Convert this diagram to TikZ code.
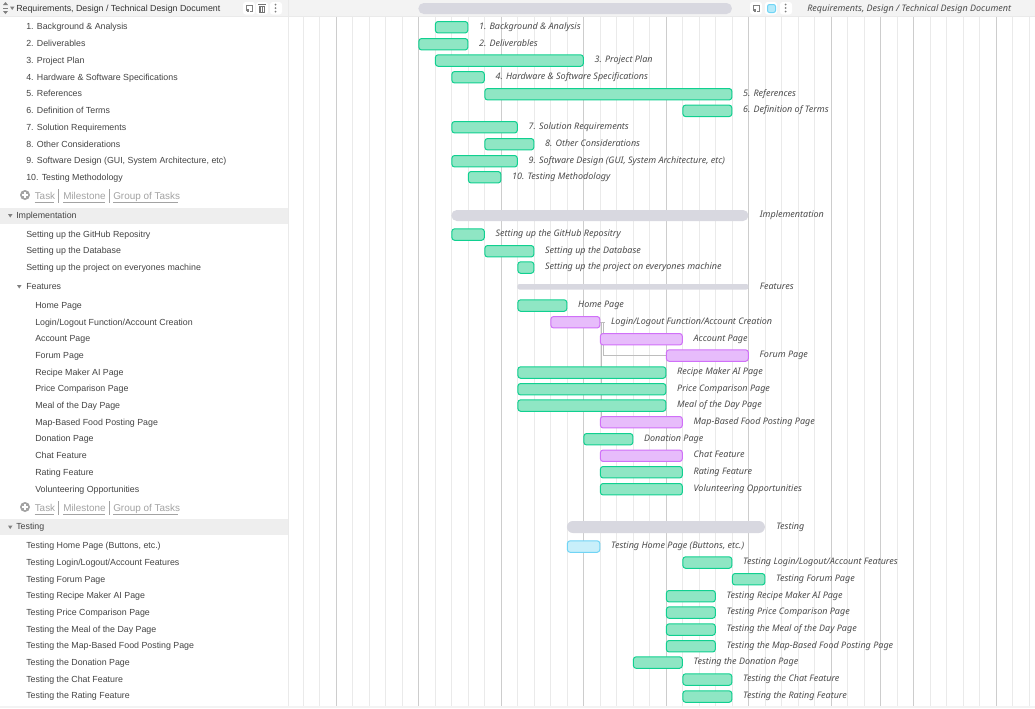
\documentclass[tikz,border=0pt]{standalone}
\usepackage{fontspec}
\setmainfont{Liberation Sans}
\newfontfamily\lblfont{Noto Sans}
\usetikzlibrary{backgrounds,calc}
\definecolor{txt}{HTML}{444444}
\definecolor{lbl}{HTML}{4D4D4D}
\definecolor{addc}{HTML}{A3A3A3}
\definecolor{gridl}{HTML}{EAEAEA}
\definecolor{gridd}{HTML}{CDCDCD}
\definecolor{band}{HTML}{F3F3F3}
\definecolor{gband}{HTML}{EEEEEE}
\definecolor{gfill}{HTML}{8FE6C4}
\definecolor{gline}{HTML}{10D090}
\definecolor{pfill}{HTML}{E7BCFB}
\definecolor{pline}{HTML}{D070F8}
\definecolor{bfill}{HTML}{C8EFFA}
\definecolor{bline}{HTML}{70D4F5}
\definecolor{sumc}{HTML}{D8D8E0}
\definecolor{depc}{HTML}{BDBDBD}
\tikzset{
  rowtext/.style={anchor=base west,inner sep=0,text=txt,font=\fontsize{6.62pt}{8pt}\selectfont},
  addtext/.style={anchor=base west,inner sep=0,text=addc,font=\fontsize{7.45pt}{9pt}\selectfont},
  bartext/.style={anchor=base west,inner sep=0,text=lbl,font=\lblfont\itshape\fontsize{6.75pt}{8pt}\selectfont},
  barbase/.style={anchor=north west,inner sep=0,outer sep=0,rounded corners=2pt,line width=0.75pt},
  gbar/.style={barbase,draw=gline,fill=gfill},
  pbar/.style={barbase,draw=pline,fill=pfill},
  bbar/.style={barbase,draw=bline,fill=bfill},
  sumbar/.style={anchor=north west,inner sep=0,outer sep=0,fill=sumc},
  iconbox/.style={anchor=north west,inner sep=0,outer sep=0,fill=white,rounded corners=2pt,minimum width=9pt,minimum height=9.4pt},
  dep/.style={draw=depc,line width=0.75pt},
  grid thin/.style={draw=gridl,line width=0.75pt},
  grid thick/.style={draw=gridd,line width=0.75pt}
}
\newcommand{\ganttbar}[6]{%
  \pgfmathsetmacro{\xa}{286.8+16.5*#2+0.1}%
  \pgfmathsetmacro{\wa}{(16.5*(#3-#2)-0.6)*0.75}%
  \pgfmathsetmacro{\xb}{286.8+16.5*#3+10.6}%
  \node[#5,minimum width=\wa pt,minimum height=8.6pt] (#1) at (\xa,#4+0.5) {};
  \node[bartext] (#1-l) at (\xb,#4+8.2) {#6};
}
\newcommand{\sumbar}[6]{%
  \pgfmathsetmacro{\xa}{286.8+16.5*#2-0.4}%
  \pgfmathsetmacro{\wa}{16.5*(#3-#2)*0.75}%
  \node[sumbar,rounded corners=#6pt,minimum width=\wa pt,minimum height=#5*0.75pt] (#1) at (\xa,#4) {};
}
\begin{document}
\begin{tikzpicture}[x=0.75pt,y=-0.75pt]
\useasboundingbox (0,0) rectangle (1035,708);
% ---- bars and labels
\sumbar{topscroll}{8}{27}{3}{11}{4}
\ganttbar{b1}{9}{11}{21}{gbar}{1. Background \& Analysis}
\ganttbar{b2}{8}{11}{38}{gbar}{2. Deliverables}
\ganttbar{b3}{9}{18}{54.3}{gbar}{3. Project Plan}
\ganttbar{b4}{10}{12}{71}{gbar}{4. Hardware \& Software Specifications}
\ganttbar{b5}{12}{27}{88}{gbar}{5. References}
\ganttbar{b6}{24}{27}{104.6}{gbar}{6. Definition of Terms}
\ganttbar{b7}{10}{14}{121}{gbar}{7. Solution Requirements}
\ganttbar{b8}{12}{15}{138}{gbar}{8. Other Considerations}
\ganttbar{b9}{10}{14}{155}{gbar}{9. Software Design (GUI, System Architecture, etc)}
\ganttbar{b10}{11}{13}{171}{gbar}{10. Testing Methodology}
\sumbar{impl}{10}{28}{210}{11}{4}
\node[bartext] (impl-l) at (759.5,217) {Implementation};
\ganttbar{git}{10}{12}{228.3}{gbar}{Setting up the GitHub Repositry}
\ganttbar{db}{12}{15}{245}{gbar}{Setting up the Database}
\ganttbar{proj}{14}{15}{261.3}{gbar}{Setting up the project on everyones machine}
\sumbar{feat}{14}{28}{284}{5.5}{1.5}
\node[bartext] (feat-l) at (759.5,289) {Features};
\ganttbar{home}{14}{17}{299.3}{gbar}{Home Page}
\ganttbar{login}{16}{19}{316}{pbar}{Login/Logout Function/Account Creation}
\ganttbar{acct}{19}{24}{333}{pbar}{Account Page}
\ganttbar{forum}{23}{28}{349.3}{pbar}{Forum Page}
\ganttbar{recipe}{14}{23}{366.3}{gbar}{Recipe Maker AI Page}
\ganttbar{price}{14}{23}{383}{gbar}{Price Comparison Page}
\ganttbar{meal}{14}{23}{399.3}{gbar}{Meal of the Day Page}
\ganttbar{map}{19}{24}{416}{pbar}{Map-Based Food Posting Page}
\ganttbar{don}{18}{21}{433}{gbar}{Donation Page}
\ganttbar{chat}{19}{24}{449.5}{pbar}{Chat Feature}
\ganttbar{rate}{19}{24}{466}{gbar}{Rating Feature}
\ganttbar{vol}{19}{24}{483}{gbar}{Volunteering Opportunities}
\sumbar{test}{17}{29}{521}{12}{4.5}
\node[bartext] (test-l) at (776,529) {Testing};
\ganttbar{t1}{17}{19}{540.3}{bbar}{Testing Home Page (Buttons, etc.)}
\ganttbar{t2}{24}{27}{556.3}{gbar}{Testing Login/Logout/Account Features}
\ganttbar{t3}{27}{29}{573}{gbar}{Testing Forum Page}
\ganttbar{t4}{23}{26}{590}{gbar}{Testing Recipe Maker AI Page}
\ganttbar{t5}{23}{26}{606.3}{gbar}{Testing Price Comparison Page}
\ganttbar{t6}{23}{26}{623.3}{gbar}{Testing the Meal of the Day Page}
\ganttbar{t7}{23}{26}{640}{gbar}{Testing the Map-Based Food Posting Page}
\ganttbar{t8}{21}{24}{656.3}{gbar}{Testing the Donation Page}
\ganttbar{t9}{24}{27}{673.3}{gbar}{Testing the Chat Feature}
\ganttbar{t10}{24}{27}{690.3}{gbar}{Testing the Rating Feature}
% ---- background layer
\begin{pgfonlayer}{background}
  \fill[white] (0,0) rectangle (1035,708);
  \fill[band] (0,0) rectangle (1035,16.5);
  \fill[gband] (0,207.5) rectangle (288,223.5);
  \fill[gband] (0,519) rectangle (288,535);
  \fill[band] (0,705.5) rectangle (1035,708);
  \foreach \i in {1,...,45}{
    \pgfmathsetmacro{\xg}{286.8+16.5*\i}
    \draw[grid thin] (\xg,17) -- (\xg,706);
  }
  \foreach \i in {3,8,13,18,23,28,33,36,38,43}{
    \pgfmathsetmacro{\xg}{286.8+16.5*\i}
    \draw[grid thick] (\xg,17) -- (\xg,706);
  }
  \draw[gridl,line width=0.75pt] (288.5,0) -- (288.5,706);
  \draw[gridl,line width=0.5pt] (0,16.8) -- (1035,16.8);
  \draw[dep] (login.east) -- ++(5.5,0);
  \draw[dep] ($(login.east)+(2,0)$) |- (map.west);
  \draw[dep] ($(login.east)+(4,0)$) |- (forum.west);
\end{pgfonlayer}
% ---- left pane text
\node[rowtext,text=black!80] (hd) at (16,11) {Requirements, Design / Technical Design Document};
\node[rowtext] (r1) at (26,29.5) {1. Background \& Analysis};
\node[rowtext] (r2) at (26,46) {2. Deliverables};
\node[rowtext] (r3) at (26,63) {3. Project Plan};
\node[rowtext] (r4) at (26,80) {4. Hardware \& Software Specifications};
\node[rowtext] (r5) at (26,96) {5. References};
\node[rowtext] (r6) at (26,113) {6. Definition of Terms};
\node[rowtext] (r7) at (26,130) {7. Solution Requirements};
\node[rowtext] (r8) at (26,147) {8. Other Considerations};
\node[rowtext] (r9) at (26,163) {9. Software Design (GUI, System Architecture, etc)};
\node[rowtext] (r10) at (26,180) {10. Testing Methodology};
\node[rowtext] (gi) at (16,218) {Implementation};
\node[rowtext] (i1) at (26,237) {Setting up the GitHub Repositry};
\node[rowtext] (i2) at (26,253) {Setting up the Database};
\node[rowtext] (i3) at (26,270) {Setting up the project on everyones machine};
\node[rowtext] (gf) at (26,289) {Features};
\node[rowtext] (f1) at (35,308) {Home Page};
\node[rowtext] (f2) at (35,325) {Login/Logout Function/Account Creation};
\node[rowtext] (f3) at (35,341) {Account Page};
\node[rowtext] (f4) at (35,358) {Forum Page};
\node[rowtext] (f5) at (35,375) {Recipe Maker AI Page};
\node[rowtext] (f6) at (35,391) {Price Comparison Page};
\node[rowtext] (f7) at (35,408) {Meal of the Day Page};
\node[rowtext] (f8) at (35,425) {Map-Based Food Posting Page};
\node[rowtext] (f9) at (35,441) {Donation Page};
\node[rowtext] (f10) at (35,458) {Chat Feature};
\node[rowtext] (f11) at (35,475) {Rating Feature};
\node[rowtext] (f12) at (35,492) {Volunteering Opportunities};
\node[rowtext] (gt) at (16,529) {Testing};
\node[rowtext] (s1) at (26,548) {Testing Home Page (Buttons, etc.)};
\node[rowtext] (s2) at (26,565) {Testing Login/Logout/Account Features};
\node[rowtext] (s3) at (26,582) {Testing Forum Page};
\node[rowtext] (s4) at (26,598) {Testing Recipe Maker AI Page};
\node[rowtext] (s5) at (26,615) {Testing Price Comparison Page};
\node[rowtext] (s6) at (26,632) {Testing the Meal of the Day Page};
\node[rowtext] (s7) at (26,648) {Testing the Map-Based Food Posting Page};
\node[rowtext] (s8) at (26,665) {Testing the Donation Page};
\node[rowtext] (s9) at (26,682) {Testing the Chat Feature};
\node[rowtext] (s10) at (26,698) {Testing the Rating Feature};
\node[bartext] (hdr) at (807,11) {Requirements, Design / Technical Design Document};
% ---- add rows
\foreach \yy/\nm in {199/a,511/b}{
  \fill[addc] (25,\yy-4) circle[radius=5];
  \draw[white,line width=0.9pt] (22,\yy-4) -- (28,\yy-4) (25,\yy-7) -- (25,\yy-1);
  \node[addtext] (task\nm) at (34.5,\yy) {Task};
  \node[addtext] (mile\nm) at (63,\yy) {Milestone};
  \node[addtext] (grp\nm) at (113,\yy) {Group of Tasks};
  \draw[addc,line width=0.6pt] (34.5,\yy+3.2) -- (54,\yy+3.2) (63,\yy+3.2) -- (105,\yy+3.2) (113,\yy+3.2) -- (178,\yy+3.2);
  \draw[addc,line width=0.6pt] (58.5,\yy-10) -- (58.5,\yy+4) (109,\yy-10) -- (109,\yy+4);
}
% ---- triangles
\fill[gray] (10,6.5) -- (14.5,6.5) -- (12.2,10) -- cycle;
\fill[gray] (8,214) -- (12.5,214) -- (10.2,217.5) -- cycle;
\fill[gray] (17,285) -- (21.5,285) -- (19.2,288.5) -- cycle;
\fill[gray] (8,525.5) -- (12.5,525.5) -- (10.2,529) -- cycle;
\fill[gray] (3,5) -- (8,5) -- (5.5,2) -- cycle;
\fill[gray] (3,11) -- (8,11) -- (5.5,14) -- cycle;
\draw[gray,line width=0.5pt] (3,8) -- (8,8);
% ---- header icons
\foreach \x/\n in {243/a,256/b,270/c,750/d,765/e,780/f}{
  \node[iconbox] (ic\n) at (\x,2) {};
}
\foreach \x in {246.5,753.5}{
  \draw[gray,line width=0.5pt] (\x,11) -- (\x,5) -- (\x+6,5) -- (\x+6,11) -- (\x+3,11);
  \fill[gray] (\x,9) rectangle (\x+2.5,11.5);
}
\fill[gray!90!black] (259,5.5) rectangle (265,12.5);
\fill[gray!90!black] (258,4.2) rectangle (266,5.2);
\draw[white,line width=0.4pt] (261,7) -- (261,11.5) (263,7) -- (263,11.5);
\foreach \x in {275.5,785.5}{
  \foreach \y in {4.5,8,11.5} \fill[gray] (\x,\y) circle[radius=1];
}
\draw[bline,fill=bfill!80!bline,line width=0.75pt,rounded corners=1.5pt] (767.5,4.5) rectangle (775.5,12.5);
\end{tikzpicture}
\end{document}
